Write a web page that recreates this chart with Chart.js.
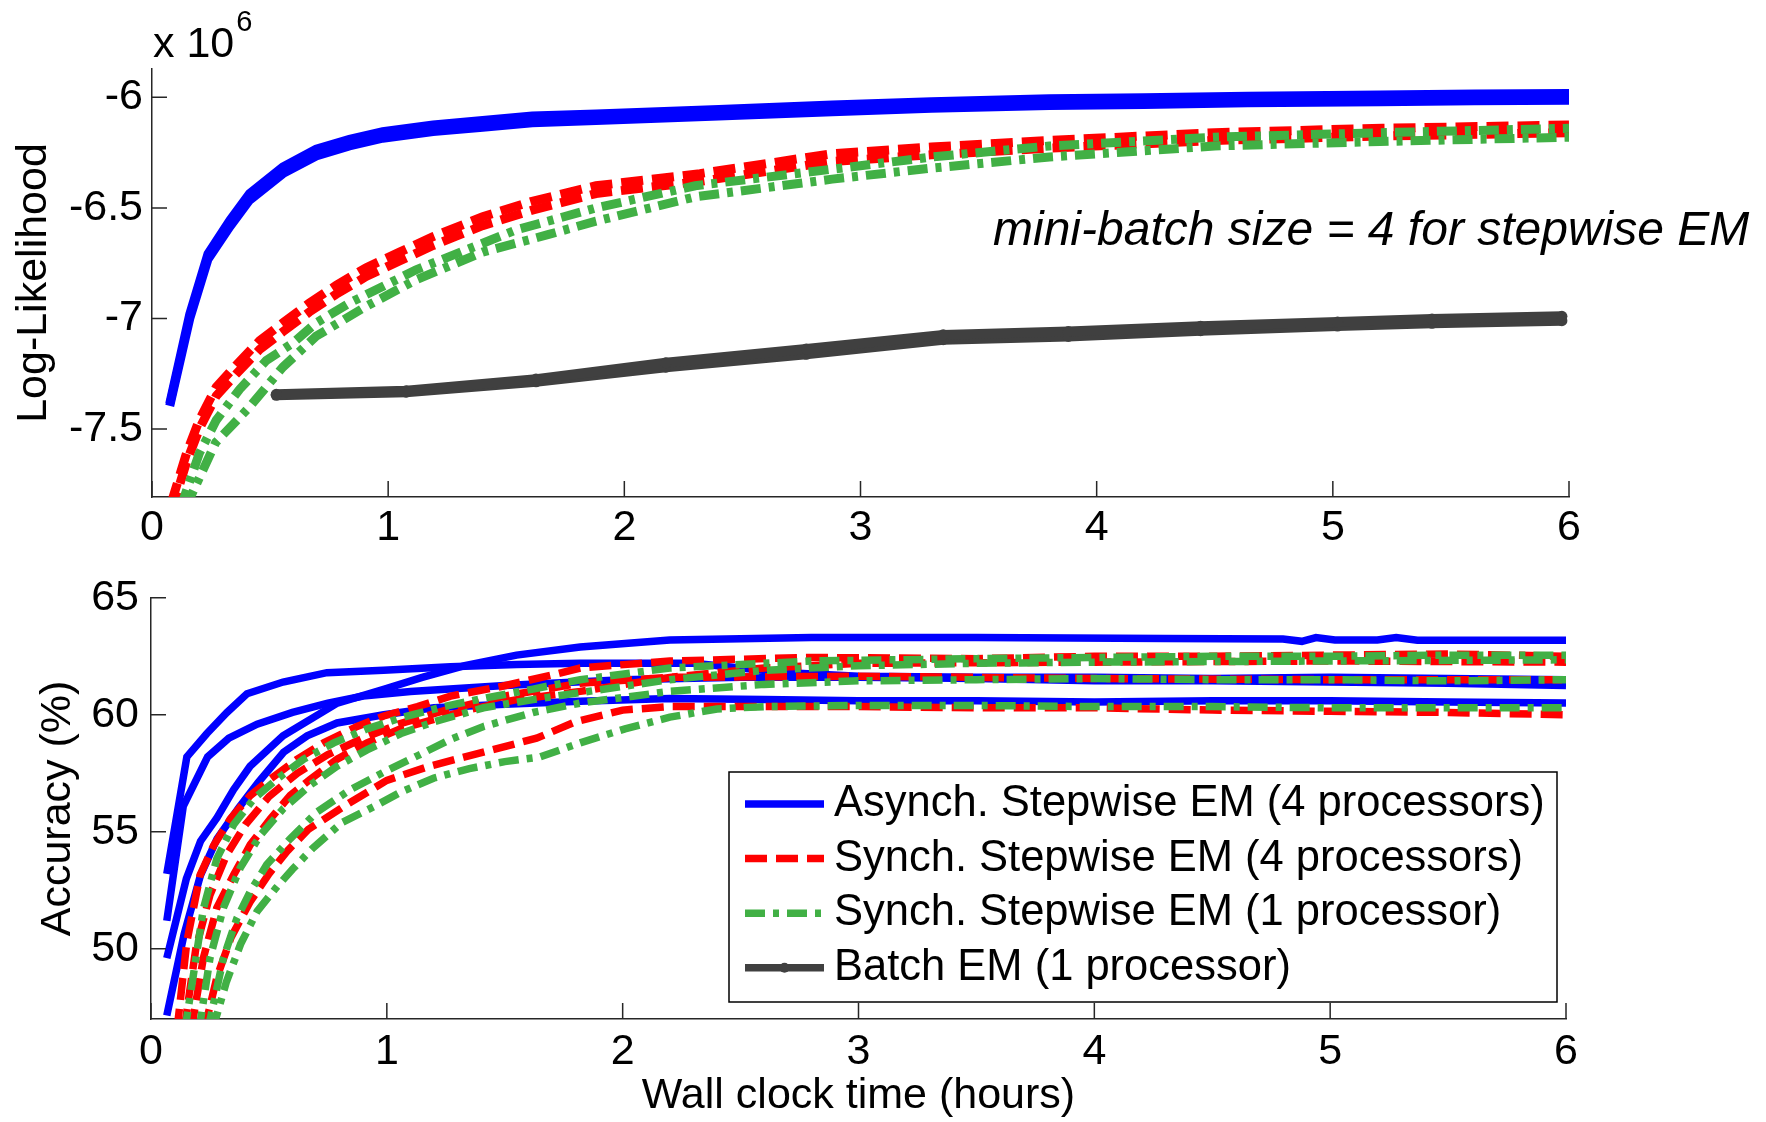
<!DOCTYPE html>
<html>
<head>
<meta charset="utf-8">
<title>Stepwise EM: log-likelihood and accuracy</title>
<script src="https://cdn.jsdelivr.net/npm/chart.js@4.4.1/dist/chart.umd.min.js"></script>
<style>
	html, body { margin: 0; padding: 0; background: #fff; }
	#wrap { position: relative; width: 1766px; height: 1122px; overflow: hidden; }
	canvas { position: absolute; left: 0; }
	#llCanvas { top: 0; }
	#accCanvas { top: 560px; }
</style>
</head>
<body>
<div id="wrap">
	<canvas id="llCanvas" width="1766" height="560"></canvas>
	<canvas id="accCanvas" width="1766" height="562"></canvas>
</div>
<script>
// ---------- top panel : log-likelihood (x 10^6) vs wall clock hours ----------
const hourTicks = [0, 1, 2, 3, 4, 5, 6];
const llTicks = [-7.5, -7, -6.5, -6];
const LL_MIN = -7.807, LL_MAX = -5.872;

// asynch stepwise EM, two overlapping runs
const llAsyncT = [0.075, 0.16, 0.237, 0.33, 0.413, 0.554, 0.695, 0.836, 0.977, 1.19, 1.40, 1.61, 1.88, 2.4, 2.88, 3.3, 3.8, 4.2, 4.64, 5.2, 5.6, 6.0];
const llAsyncA = [-7.385, -6.98, -6.708, -6.556, -6.435, -6.315, -6.235, -6.19, -6.155, -6.125, -6.105, -6.085, -6.075, -6.055, -6.035, -6.02, -6.007, -6.002, -5.995, -5.99, -5.985, -5.983];
const llAsyncB = [-7.395, -7.0, -6.732, -6.584, -6.465, -6.345, -6.265, -6.22, -6.185, -6.155, -6.135, -6.115, -6.105, -6.085, -6.065, -6.05, -6.037, -6.032, -6.025, -6.02, -6.015, -6.013];

// synch stepwise EM, 4 processors
const llSync4T = [0.08, 0.146, 0.20, 0.272, 0.357, 0.456, 0.554, 0.667, 0.78, 0.907, 1.048, 1.19, 1.40, 1.61, 1.88, 2.32, 2.88, 3.30, 3.80, 4.5, 5.21, 6.0];
const llSync4A = [-7.84, -7.61, -7.46, -7.31, -7.21, -7.10, -7.02, -6.93, -6.85, -6.77, -6.70, -6.63, -6.54, -6.47, -6.40, -6.345, -6.255, -6.225, -6.195, -6.16, -6.14, -6.125];
const llSync4B = [-7.88, -7.65, -7.50, -7.35, -7.25, -7.14, -7.06, -6.97, -6.89, -6.81, -6.74, -6.67, -6.58, -6.51, -6.435, -6.38, -6.29, -6.26, -6.23, -6.195, -6.175, -6.16];

// synch stepwise EM, 1 processor
const llSync1AT = [0.12, 0.20, 0.272, 0.371, 0.484, 0.597, 0.695, 0.836, 0.977, 1.118, 1.33, 1.54, 1.88, 2.3, 2.88, 3.3, 3.8, 4.5, 5.2, 6.0];
const llSync1A = [-7.86, -7.61, -7.46, -7.32, -7.19, -7.11, -7.02, -6.93, -6.855, -6.78, -6.69, -6.60, -6.50, -6.40, -6.325, -6.27, -6.22, -6.18, -6.16, -6.14];
const llSync1BT = [0.14, 0.27, 0.413, 0.554, 0.695, 0.907, 1.118, 1.40, 1.68, 1.88, 2.3, 2.88, 3.3, 3.8, 4.5, 5.2, 6.0];
const llSync1B = [-7.86, -7.56, -7.40, -7.22, -7.08, -6.945, -6.825, -6.70, -6.62, -6.56, -6.45, -6.37, -6.32, -6.27, -6.22, -6.20, -6.18];

// batch EM
const llBatchT = [0.526, 1.076, 1.626, 2.176, 2.77, 3.35, 3.88, 4.44, 5.02, 5.42, 5.97];
const llBatchA = [-7.343, -7.327, -7.274, -7.2, -7.138, -7.074, -7.059, -7.035, -7.016, -7.002, -6.99];
const llBatchB = [-7.347, -7.333, -7.286, -7.22, -7.162, -7.096, -7.081, -7.055, -7.034, -7.022, -7.01];

// ---------- bottom panel : accuracy (%) vs wall clock hours ----------
const accTicks = [50, 55, 60, 65];
const ACC_MIN = 47, ACC_MAX = 65;

const accAsync1T = [0.067, 0.152, 0.237, 0.322, 0.407, 0.56, 0.746, 0.986, 1.27, 1.55, 1.82, 2.3, 2.7, 3.0, 3.5, 4.0, 4.5, 5.0, 5.5, 6.0];
const accAsync1 = [53.2, 58.2, 59.2, 60.1, 60.9, 61.4, 61.8, 61.9, 62.05, 62.15, 62.2, 62.2, 61.8, 61.65, 61.6, 61.6, 61.55, 61.6, 61.55, 61.5];
const accAsync2T = [0.067, 0.137, 0.24, 0.33, 0.45, 0.6, 0.75, 0.9, 1.1, 1.5, 2.0, 2.5, 3.0, 3.5, 4.0, 4.5, 5.0, 5.5, 6.0];
const accAsync2 = [51.2, 56.1, 58.2, 59.0, 59.6, 60.1, 60.5, 60.8, 61.0, 61.25, 61.5, 61.6, 61.6, 61.55, 61.45, 61.45, 61.4, 61.35, 61.25];
const accAsync3T = [0.067, 0.15, 0.21, 0.28, 0.35, 0.42, 0.56, 0.79, 0.99, 1.15, 1.33, 1.55, 1.82, 2.2, 2.8, 3.5, 4.3, 4.8, 4.88, 4.94, 5.02, 5.2, 5.28, 5.37, 6.0];
const accAsync3 = [49.6, 53.0, 54.6, 55.6, 56.8, 57.8, 59.1, 60.5, 61.1, 61.6, 62.1, 62.55, 62.9, 63.2, 63.3, 63.3, 63.26, 63.24, 63.14, 63.3, 63.2, 63.2, 63.3, 63.19, 63.19];
const accAsync4T = [0.067, 0.14, 0.21, 0.28, 0.37, 0.454, 0.562, 0.662, 0.789, 0.987, 1.2, 1.5, 1.82, 2.2, 2.6, 3.0, 3.5, 4.0, 4.5, 5.0, 5.5, 6.0];
const accAsync4 = [47.15, 50.6, 53.15, 54.7, 56.0, 57.1, 58.4, 59.1, 59.65, 60.0, 60.3, 60.45, 60.58, 60.7, 60.65, 60.6, 60.6, 60.55, 60.6, 60.6, 60.55, 60.5];

const accSync4aT = [0.11, 0.152, 0.208, 0.265, 0.336, 0.421, 0.506, 0.619, 0.732, 0.874, 0.987, 1.13, 1.27, 1.48, 1.70, 1.82, 2.2, 2.8, 3.5, 4.0, 4.5, 5.0, 5.5, 6.0];
const accSync4a = [46.5, 50.3, 53.15, 54.4, 55.55, 56.55, 57.25, 58.1, 58.8, 59.5, 59.95, 60.35, 60.8, 61.2, 61.7, 62.0, 62.3, 62.45, 62.4, 62.5, 62.5, 62.55, 62.6, 62.5];
const accSync4bT = [0.17, 0.222, 0.279, 0.35, 0.421, 0.506, 0.59, 0.676, 0.789, 0.916, 1.058, 1.2, 1.34, 1.55, 1.82, 2.2, 2.6, 3.0, 4.0, 5.0, 6.0];
const accSync4b = [46.5, 49.6, 51.75, 53.15, 54.45, 55.55, 56.55, 57.25, 58.1, 58.8, 59.4, 59.8, 60.2, 60.65, 61.0, 61.6, 62.0, 62.2, 62.25, 62.3, 62.25];
const accSync4cT = [0.14, 0.19, 0.25, 0.32, 0.40, 0.5, 0.62, 0.75, 0.9, 1.05, 1.25, 1.5, 1.82, 2.2, 3.0, 4.0, 5.0, 6.0];
const accSync4c = [46.5, 50.0, 52.3, 54.0, 55.3, 56.5, 57.5, 58.3, 59.0, 59.6, 60.2, 60.8, 61.35, 61.6, 61.65, 61.55, 61.5, 61.5];
const accSync4dT = [0.225, 0.28, 0.34, 0.42, 0.5, 0.58, 0.667, 0.82, 1.0, 1.18, 1.445, 1.635, 1.8, 2.0, 2.2, 2.5, 3.0, 3.5, 4.0, 4.5, 5.0, 5.5, 6.0];
const accSync4d = [46.5, 48.8, 50.5, 52.0, 53.2, 54.2, 55.1, 56.1, 57.2, 57.8, 58.5, 59.0, 59.7, 60.2, 60.35, 60.35, 60.35, 60.3, 60.3, 60.2, 60.15, 60.1, 60.0];

const accSync1aT = [0.13, 0.151, 0.18, 0.222, 0.279, 0.35, 0.435, 0.534, 0.647, 0.775, 0.916, 1.07, 1.24, 1.41, 1.62, 1.82, 2.2, 2.8, 3.5, 4.0, 4.5, 5.0, 5.5, 6.0];
const accSync1a = [46.5, 47.0, 48.9, 51.7, 53.85, 55.3, 56.4, 57.25, 58.1, 58.8, 59.4, 59.9, 60.35, 60.7, 61.1, 61.5, 62.0, 62.3, 62.4, 62.45, 62.5, 62.5, 62.55, 62.55];
const accSync1bT = [0.19, 0.21, 0.25, 0.307, 0.378, 0.463, 0.562, 0.676, 0.789, 0.916, 1.06, 1.2, 1.41, 1.62, 1.82, 2.2, 2.6, 3.0, 3.5, 4.0, 5.0, 6.0];
const accSync1b = [46.5, 46.95, 49.6, 51.75, 53.45, 54.85, 56.0, 57.0, 57.8, 58.5, 59.2, 59.7, 60.3, 60.65, 60.95, 61.5, 61.9, 62.1, 62.2, 62.25, 62.3, 62.35];
const accSync1cT = [0.23, 0.25, 0.307, 0.364, 0.421, 0.491, 0.59, 0.704, 0.845, 0.987, 1.13, 1.27, 1.41, 1.62, 1.82, 2.2, 2.6, 3.0, 3.5, 4.0, 4.5, 5.0, 5.5, 6.0];
const accSync1c = [46.5, 46.95, 49.6, 51.3, 52.45, 53.6, 54.7, 55.85, 56.8, 57.55, 58.25, 58.95, 59.5, 60.1, 60.5, 61.0, 61.3, 61.45, 61.5, 61.55, 61.5, 61.5, 61.45, 61.5];
const accSync1dT = [0.26, 0.32, 0.38, 0.45, 0.53, 0.6, 0.686, 0.81, 0.95, 1.06, 1.2, 1.35, 1.5, 1.65, 1.82, 2.01, 2.2, 2.4, 2.6, 3.0, 3.5, 4.0, 4.5, 5.0, 5.5, 6.0];
const accSync1d = [46.5, 48.6, 50.2, 51.6, 52.6, 53.4, 54.3, 55.4, 56.1, 56.7, 57.3, 57.7, 58.0, 58.2, 58.8, 59.4, 59.9, 60.25, 60.35, 60.4, 60.4, 60.35, 60.35, 60.3, 60.3, 60.3];

// ---------- styles ----------
const BLUE = '#0000ff', RED = '#ff0000', GREEN = '#41b045', GRAY = '#404040', AXIS = '#262626';
const DASH = [22, 9];
const DASHDOT = [20, 8, 6, 8];
const FONT = '"Liberation Sans", Arial, Helvetica, sans-serif';
const FS = 43;

Chart.defaults.font.family = FONT;
Chart.defaults.color = '#000';

function pts(xs, ys) {
	return xs.map(function(x, i) { return { x: x, y: ys[i] }; });
}

function run(xs, ys, color, dash, width, order) {
	return {
		data: pts(xs, ys),
		borderColor: color,
		backgroundColor: color,
		borderDash: dash,
		borderWidth: width,
		borderCapStyle: 'butt',
		pointRadius: 0,
		tension: 0,
		fill: false,
		clip: 0,
		order: order
	};
}

function fixedTicks(vals) {
	return function(scale) {
		scale.ticks = vals.map(function(v) { return { value: v }; });
	};
}

// MATLAB-like tick marks pointing into the plot
const inwardTicks = {
	id: 'inwardTicks',
	afterDatasetsDraw(chart) {
		const ctx = chart.ctx, area = chart.chartArea;
		const xs = chart.scales.x, ys = chart.scales.y;
		ctx.save();
		ctx.strokeStyle = AXIS;
		ctx.lineWidth = 1.5;
		ctx.beginPath();
		xs.ticks.forEach(function(t) {
			const px = xs.getPixelForValue(t.value);
			ctx.moveTo(px, area.bottom);
			ctx.lineTo(px, area.bottom - 16);
		});
		ys.ticks.forEach(function(t) {
			const py = ys.getPixelForValue(t.value);
			ctx.moveTo(area.left, py);
			ctx.lineTo(area.left + 15, py);
		});
		ctx.stroke();
		ctx.restore();
	}
};

function axes(yMin, yMax, yTicks, yTitle, box) {
	return {
		x: {
			type: 'linear', min: 0, max: 6,
			afterBuildTicks: fixedTicks(hourTicks),
			afterFit: function(s) { s.height = box.xHeight; },
			grid: { display: false, drawTicks: false },
			border: { display: true, color: AXIS, width: 1.5 },
			ticks: { padding: box.xPad, autoSkip: false, maxRotation: 0, color: '#000', font: { size: FS } },
			title: { display: !!box.xTitle, text: box.xTitle || '', color: '#000', font: { size: FS }, padding: 0 }
		},
		y: {
			type: 'linear', min: yMin, max: yMax,
			afterBuildTicks: fixedTicks(yTicks),
			afterFit: function(s) { s.width = box.yWidth; },
			grid: { display: false, drawTicks: false },
			border: { display: true, color: AXIS, width: 1.5 },
			ticks: { padding: box.yPad, autoSkip: false, color: '#000', font: { size: FS },
				callback: function(v) { return String(v); } },
			title: { display: true, text: yTitle, color: '#000', font: { size: FS }, padding: { top: box.yTitlePad, bottom: 0 } }
		}
	};
}

// top panel texts: exponent and note
const llNotes = {
	id: 'llNotes',
	afterDraw(chart) {
		const ctx = chart.ctx;
		ctx.save();
		ctx.fillStyle = '#000';
		ctx.textAlign = 'left';
		ctx.textBaseline = 'alphabetic';
		ctx.font = FS + 'px ' + FONT;
		ctx.fillText('x 10', 153, 57);
		const w = ctx.measureText('x 10').width;
		ctx.font = '29px ' + FONT;
		ctx.fillText('6', 153 + w + 2, 31);
		ctx.font = 'italic 48px ' + FONT;
		ctx.fillText('mini-batch size = 4 for stepwise EM', 993, 245);
		ctx.restore();
	}
};

const legendRows = [
	{ text: 'Asynch. Stepwise EM (4 processors)', color: BLUE, dash: [], marker: false },
	{ text: 'Synch. Stepwise EM (4 processors)', color: RED, dash: DASH, marker: false },
	{ text: 'Synch. Stepwise EM (1 processor)', color: GREEN, dash: DASHDOT, marker: false },
	{ text: 'Batch EM (1 processor)', color: GRAY, dash: [], marker: true }
];

const accLegend = {
	id: 'accLegend',
	afterDraw(chart) {
		const ctx = chart.ctx;
		ctx.save();
		ctx.fillStyle = '#fff';
		ctx.fillRect(729, 212, 828, 230);
		ctx.strokeStyle = '#000';
		ctx.lineWidth = 1.5;
		ctx.strokeRect(729, 212, 828, 230);
		legendRows.forEach(function(row, i) {
			const y = 244 + i * 54.6;
			ctx.strokeStyle = row.color;
			ctx.lineWidth = 7.5;
			ctx.lineCap = 'butt';
			ctx.setLineDash(row.dash);
			ctx.beginPath();
			ctx.moveTo(745, y);
			ctx.lineTo(824, y);
			ctx.stroke();
			ctx.setLineDash([]);
			if (row.marker) {
				ctx.fillStyle = row.color;
				ctx.beginPath();
				ctx.arc(784.5, y, 5, 0, Math.PI * 2);
				ctx.fill();
			}
			ctx.fillStyle = '#000';
			ctx.font = '43.5px ' + FONT;
			ctx.textBaseline = 'middle';
			ctx.fillText(row.text, 834, y);
		});
		ctx.restore();
	}
};

function gridLogLikelihood() {
	const batchA = run(llBatchT, llBatchA, GRAY, [], 10, 1);
	const batchB = run(llBatchT, llBatchB, GRAY, [], 10, 1);
	batchA.pointRadius = 5.5;
	batchB.pointRadius = 5.5;
	batchA.pointBorderWidth = 0;
	batchB.pointBorderWidth = 0;

	const datasets = [
		run(llAsyncT, llAsyncA, BLUE, [], 9, 4),
		run(llAsyncT, llAsyncB, BLUE, [], 9, 4),
		run(llSync4T, llSync4A, RED, DASH, 9, 3),
		run(llSync4T, llSync4B, RED, DASH, 9, 3),
		run(llSync1AT, llSync1A, GREEN, DASHDOT, 9, 2),
		run(llSync1BT, llSync1B, GREEN, DASHDOT, 9, 2),
		batchA, batchB
	];

	const ctx = document.getElementById('llCanvas').getContext('2d');
	new Chart(ctx, {
		type: 'line',
		data: { datasets: datasets },
		options: {
			responsive: false,
			animation: false,
			events: [],
			layout: { padding: { top: 69, right: 197, bottom: 0, left: 0 } },
			plugins: { legend: { display: false }, tooltip: { enabled: false } },
			scales: axes(LL_MIN, LL_MAX, llTicks, 'Log-Likelihood',
				{ xHeight: 63, xPad: 5, yWidth: 152, yPad: 9, yTitlePad: 8 })
		},
		plugins: [inwardTicks, llNotes]
	});
}

function gridAccuracy() {
	const datasets = [
		run(accAsync1T, accAsync1, BLUE, [], 7.5, 4),
		run(accAsync2T, accAsync2, BLUE, [], 7.5, 4),
		run(accAsync3T, accAsync3, BLUE, [], 7.5, 4),
		run(accAsync4T, accAsync4, BLUE, [], 7.5, 4),
		run(accSync4aT, accSync4a, RED, DASH, 7.5, 3),
		run(accSync4bT, accSync4b, RED, DASH, 7.5, 3),
		run(accSync4cT, accSync4c, RED, DASH, 7.5, 3),
		run(accSync4dT, accSync4d, RED, DASH, 7.5, 3),
		run(accSync1aT, accSync1a, GREEN, DASHDOT, 7.5, 2),
		run(accSync1bT, accSync1b, GREEN, DASHDOT, 7.5, 2),
		run(accSync1cT, accSync1c, GREEN, DASHDOT, 7.5, 2),
		run(accSync1dT, accSync1d, GREEN, DASHDOT, 7.5, 2)
	];

	const ctx = document.getElementById('accCanvas').getContext('2d');
	new Chart(ctx, {
		type: 'line',
		data: { datasets: datasets },
		options: {
			responsive: false,
			animation: false,
			events: [],
			layout: { padding: { top: 34, right: 200, bottom: 0, left: 0 } },
			plugins: { legend: { display: false }, tooltip: { enabled: false } },
			scales: axes(ACC_MIN, ACC_MAX, accTicks, 'Accuracy (%)',
				{ xHeight: 103, xPad: 7, yWidth: 151, yPad: 12, yTitlePad: 32, xTitle: 'Wall clock time (hours)' })
		},
		plugins: [inwardTicks, accLegend]
	});
}

document.addEventListener("DOMContentLoaded", function() {
	gridLogLikelihood();
	gridAccuracy();
});
</script>
</body>
</html>
